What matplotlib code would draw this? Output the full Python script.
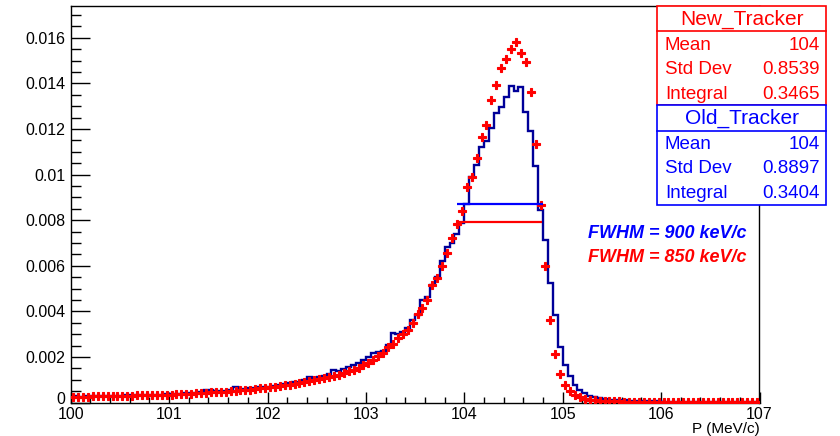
import numpy as np
import matplotlib
matplotlib.use("Agg")
from matplotlib import pyplot as plt
from matplotlib.patches import Rectangle
from matplotlib.ticker import MultipleLocator
from matplotlib.transforms import ScaledTranslation

plt.rcParams['font.family'] = ['Liberation Sans', 'DejaVu Sans']

# bins of 0.05 MeV/c from 100 to 107
bin_lo = 100.0
bin_hi = 107.0

# New_Tracker (red markers), 140 bins
new_tracker = [
    0.00026, 0.00026, 0.00025, 0.00026, 0.00027, 0.00027, 0.00028, 0.00027, 0.00028, 0.00029,
    0.00029, 0.00030, 0.00030, 0.00031, 0.00031, 0.00032, 0.00033, 0.00033, 0.00034, 0.00035,
    0.00035, 0.00036, 0.00037, 0.00038, 0.00039, 0.00040, 0.00041, 0.00043, 0.00044, 0.00045,
    0.00046, 0.00048, 0.00050, 0.00051, 0.00053, 0.00055, 0.00057, 0.00060, 0.00062, 0.00064,
    0.00066, 0.00069, 0.00072, 0.00075, 0.00078, 0.00082, 0.00086, 0.00090, 0.00094, 0.00098,
    0.00102, 0.00107, 0.00112, 0.00117, 0.00122, 0.00129, 0.00136, 0.00144, 0.00153, 0.00163,
    0.00175, 0.00188, 0.00203, 0.00216, 0.00242, 0.00257, 0.00282, 0.00300, 0.00318, 0.00350,
    0.00388, 0.00416, 0.00450, 0.00514, 0.00545, 0.00599, 0.00654, 0.00723, 0.00781, 0.00841,
    0.00944, 0.00988, 0.01072, 0.01163, 0.01218, 0.01327, 0.01393, 0.01468, 0.01505, 0.01552,
    0.01580, 0.01534, 0.01492, 0.01363, 0.01134, 0.00868, 0.00599, 0.00362, 0.00211, 0.00124,
    0.00077, 0.00052, 0.00033, 0.00022, 0.00016, 0.00012, 0.00010, 0.00008, 0.00007, 0.00006,
    0.00005, 0.00005, 0.00004, 0.00004, 0.00004, 0.00003, 0.00003, 0.00003, 0.00003, 0.00003,
    0.00002, 0.00002, 0.00002, 0.00002, 0.00002, 0.00002, 0.00002, 0.00002, 0.00002, 0.00002,
    0.00002, 0.00002, 0.00002, 0.00002, 0.00002, 0.00002, 0.00002, 0.00002, 0.00002, 0.00002,
]

# Old_Tracker (blue histogram), 140 bins
old_tracker = [
    0.00027, 0.00026, 0.00026, 0.00027, 0.00028, 0.00029, 0.00028, 0.00029, 0.00030, 0.00029,
    0.00030, 0.00031, 0.00032, 0.00032, 0.00033, 0.00033, 0.00034, 0.00035, 0.00035, 0.00036,
    0.00037, 0.00038, 0.00039, 0.00040, 0.00041, 0.00042, 0.00044, 0.00053, 0.00054, 0.00052,
    0.00050, 0.00052, 0.00054, 0.00066, 0.00060, 0.00060, 0.00062, 0.00064, 0.00066, 0.00069,
    0.00070, 0.00074, 0.00078, 0.00080, 0.00084, 0.00090, 0.00092, 0.00100, 0.00110, 0.00108,
    0.00112, 0.00118, 0.00124, 0.00142, 0.00138, 0.00145, 0.00155, 0.00165, 0.00172, 0.00185,
    0.00200, 0.00218, 0.00220, 0.00225, 0.00252, 0.00303, 0.00300, 0.00310, 0.00325, 0.00362,
    0.00385, 0.00450, 0.00463, 0.00515, 0.00552, 0.00620, 0.00680, 0.00700, 0.00740, 0.00786,
    0.00869, 0.00990, 0.01042, 0.01119, 0.01147, 0.01205, 0.01271, 0.01297, 0.01341, 0.01390,
    0.01366, 0.01385, 0.01273, 0.01191, 0.01037, 0.00844, 0.00713, 0.00523, 0.00384, 0.00245,
    0.00164, 0.00118, 0.00077, 0.00055, 0.00040, 0.00030, 0.00024, 0.00020, 0.00016, 0.00013,
    0.00011, 0.00010, 0.00009, 0.00008, 0.00007, 0.00007, 0.00006, 0.00006, 0.00005, 0.00005,
    0.00004, 0.00004, 0.00004, 0.00004, 0.00004, 0.00003, 0.00003, 0.00003, 0.00003, 0.00003,
    0.00003, 0.00003, 0.00002, 0.00002, 0.00002, 0.00002, 0.00002, 0.00002, 0.00002, 0.00002,
]

# FWHM markers: (level, x start, x end)
fwhm_old = (0.00869, 103.93, 104.80)
fwhm_new = (0.00790, 103.93, 104.79)

stats_new = [("Mean", "104"), ("Std Dev", "0.8539"), ("Integral", "0.3465")]
stats_old = [("Mean", "104"), ("Std Dev", "0.8897"), ("Integral", "0.3404")]

edges = np.linspace(bin_lo, bin_hi, len(old_tracker) + 1)
centers = 0.5 * (edges[:-1] + edges[1:])

W, H = 840, 436
fig = plt.figure(figsize=(W / 100, H / 100), dpi=100)

# axes frame in pixels (left, top, right, bottom)
L, T, R, B = 70.7, 6.3, 759.5, 402.5
ax = fig.add_axes([L / W, 1 - B / H, (R - L) / W, (B - T) / H])

ax.stairs(old_tracker, edges, color='#000099', lw=1.7, zorder=2)
ax.plot(centers, new_tracker, 'P', color='#ff0000', ms=5.5, mec='#ff0000', mew=0.8, zorder=3)

ax.hlines(fwhm_old[0], fwhm_old[1], fwhm_old[2], color='#0000ff', lw=1.6, zorder=4)
ax.hlines(fwhm_new[0], fwhm_new[1], fwhm_new[2], color='#ff0000', lw=1.6, zorder=4)

ax.text(105.26, 0.00743, "FWHM = 900 keV/c", color='#0000ff', fontsize=13,
        weight='bold', style='italic', va='center')
ax.text(105.26, 0.00634, "FWHM = 850 keV/c", color='#ff0000', fontsize=13,
        weight='bold', style='italic', va='center')

ax.set_xlim(bin_lo, bin_hi)
ax.set_ylim(0, 0.01738)

ax.xaxis.set_major_locator(MultipleLocator(1))
ax.xaxis.set_minor_locator(MultipleLocator(0.2))
ax.yaxis.set_minor_locator(MultipleLocator(0.0005))
ax.set_yticks(np.arange(0, 0.0161, 0.002))
ax.set_yticklabels(["0", "0.002", "0.004", "0.006", "0.008", "0.01", "0.012", "0.014", "0.016"])

ax.tick_params(axis='y', which='major', direction='in', length=14, width=1, labelsize=11.5, pad=4)
ax.tick_params(axis='y', which='minor', direction='in', length=7, width=1)
ax.tick_params(axis='x', which='major', direction='in', length=8, width=1, labelsize=11.5, pad=3)
ax.tick_params(axis='x', which='minor', direction='in', length=4, width=1)
for s in ax.spines.values():
    s.set_linewidth(1.0)

# ROOT puts the "0" label a little above the corner
zero_lab = ax.get_yticklabels()[0]
zero_lab.set_transform(zero_lab.get_transform() + ScaledTranslation(0, 5 / 100, fig.dpi_scale_trans))

ax.set_xlabel("P (MeV/c)", fontsize=11, loc='right', labelpad=0)

# stats boxes (figure pixel coords)
def px(x, y):
    return x / W, 1 - y / H

def stat_box(top, title, rows, color):
    left, right = 657, 826
    bot = top + 99
    sep = top + 25
    x0, y0 = px(left, bot)
    fig.add_artist(Rectangle((x0, y0), (right - left) / W, 99 / H, transform=fig.transFigure,
                             facecolor='white', edgecolor=color, lw=1.2, zorder=5))
    fig.add_artist(plt.Line2D([left / W, right / W], [1 - sep / H, 1 - sep / H],
                              transform=fig.transFigure, color=color, lw=1.2, zorder=6))
    fig.text(*px(741.5, top + 13), title, color=color, fontsize=15, ha='center', va='center', zorder=7)
    for i, (lab, val) in enumerate(rows):
        yy = top + 39 + i * 24.3
        fig.text(*px(665, yy), lab, color=color, fontsize=13.5, ha='left', va='center', zorder=7)
        fig.text(*px(820, yy), val, color=color, fontsize=13.5, ha='right', va='center', zorder=7)

stat_box(6.5, "New_Tracker", stats_new, '#ff0000')
stat_box(105.5, "Old_Tracker", stats_old, '#0000ff')

fig.savefig("out.png", dpi=100)
